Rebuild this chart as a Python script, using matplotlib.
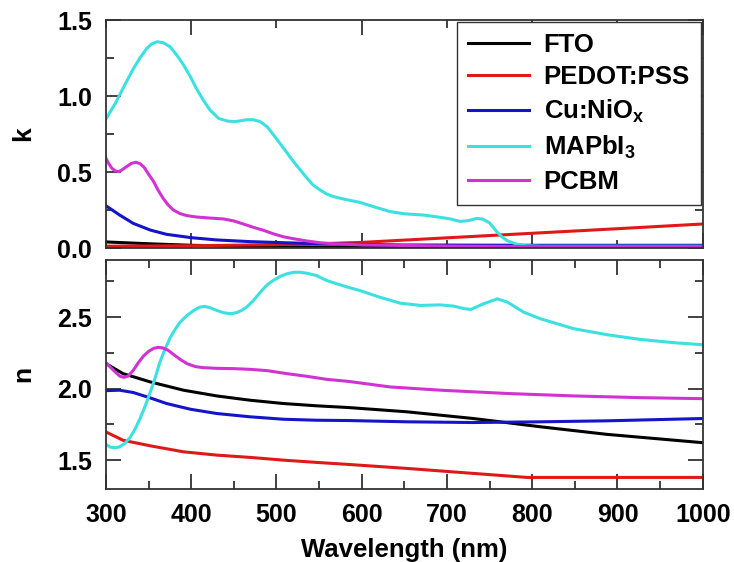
import matplotlib
matplotlib.use("Agg")
import matplotlib.pyplot as plt
from matplotlib.ticker import MultipleLocator, FormatStrFormatter

# ---------------- data ----------------
labels = ["FTO", "PEDOT:PSS", r"Cu:NiO$_\mathregular{x}$", r"MAPbI$_\mathregular{3}$", "PCBM"]
colors = ["#000000", "#e01818", "#1414c8", "#3ce0e0", "#d232d2"]

# extinction coefficient k
fto_k_wl = [300, 350, 400, 450, 500, 600, 700, 800, 900, 1000]
fto_k = [0.040, 0.028, 0.018, 0.012, 0.008, 0.005, 0.004, 0.004, 0.004, 0.004]

pedot_k_wl = [300, 400, 500, 550, 600, 700, 800, 900, 1000]
pedot_k = [0.012, 0.015, 0.022, 0.028, 0.037, 0.067, 0.097, 0.127, 0.158]

cunio_k_wl = [300, 316, 332, 352, 371, 400, 430, 469, 508, 567, 650, 800, 1000]
cunio_k = [0.278, 0.217, 0.162, 0.118, 0.090, 0.068, 0.053, 0.042, 0.035, 0.026, 0.020, 0.018, 0.018]

mapbi_k_wl = [300, 305, 311, 316, 324, 332, 340, 348, 354, 360, 367, 375, 383, 391, 399,
              406, 414, 422, 432, 442, 450, 457, 465, 473, 481, 489, 496, 504, 512, 520,
              528, 536, 543, 551, 559, 567, 575, 584, 598, 615, 633, 650, 672, 692, 705,
              715, 725, 735, 742, 750, 758, 765, 772, 782, 793, 810, 900, 1000]
mapbi_k = [0.849, 0.897, 0.952, 1.007, 1.094, 1.178, 1.252, 1.314, 1.344, 1.357, 1.351,
           1.325, 1.270, 1.204, 1.127, 1.050, 0.974, 0.908, 0.853, 0.836, 0.831, 0.836,
           0.844, 0.844, 0.831, 0.798, 0.748, 0.689, 0.629, 0.568, 0.513, 0.458, 0.414,
           0.382, 0.355, 0.338, 0.327, 0.316, 0.300, 0.270, 0.240, 0.225, 0.217, 0.202,
           0.190, 0.175, 0.180, 0.195, 0.190, 0.165, 0.110, 0.070, 0.045, 0.025, 0.015,
           0.012, 0.012, 0.012]

pcbm_k_wl = [300, 303, 307, 311, 315, 318, 324, 330, 335, 340, 345, 350, 356, 361, 367,
             373, 379, 387, 395, 406, 422, 438, 450, 461, 473, 485, 496, 508, 520, 536,
             551, 567, 584, 600, 700, 800, 1000]
pcbm_k = [0.590, 0.557, 0.524, 0.507, 0.502, 0.511, 0.535, 0.557, 0.564, 0.555, 0.529,
          0.485, 0.436, 0.382, 0.327, 0.283, 0.250, 0.226, 0.213, 0.204, 0.197, 0.191,
          0.178, 0.158, 0.136, 0.116, 0.094, 0.074, 0.061, 0.046, 0.035, 0.028, 0.024,
          0.020, 0.013, 0.010, 0.010]

# refractive index n
fto_n_wl = [300, 320, 352, 391, 430, 469, 508, 547, 584, 653, 731, 810, 888, 1000]
fto_n = [2.175, 2.105, 2.047, 1.989, 1.949, 1.919, 1.896, 1.880, 1.868, 1.838, 1.791,
         1.733, 1.680, 1.622]

pedot_n_wl = [300, 320, 352, 391, 430, 469, 508, 547, 584, 653, 731, 794, 810, 1000]
pedot_n = [1.697, 1.639, 1.600, 1.558, 1.535, 1.519, 1.500, 1.484, 1.470, 1.442, 1.407,
           1.379, 1.379, 1.379]

cunio_n_wl = [300, 316, 332, 352, 371, 399, 430, 469, 508, 547, 584, 653, 731, 810, 888, 1000]
cunio_n = [1.986, 1.989, 1.973, 1.935, 1.896, 1.856, 1.826, 1.803, 1.786, 1.779, 1.777,
           1.768, 1.763, 1.768, 1.775, 1.791]

mapbi_n_wl = [300, 305, 311, 316, 322, 328, 334, 340, 346, 352, 358, 363, 369, 375, 381,
              387, 395, 403, 410, 416, 422, 430, 438, 446, 453, 459, 465, 473, 481, 489,
              496, 504, 512, 520, 528, 536, 547, 559, 571, 584, 598, 621, 645, 669, 692,
              708, 720, 728, 743, 759, 771, 790, 810, 849, 888, 927, 967, 1000]
mapbi_n = [1.610, 1.591, 1.586, 1.593, 1.617, 1.656, 1.716, 1.791, 1.879, 1.977, 2.081,
           2.182, 2.273, 2.353, 2.414, 2.465, 2.512, 2.547, 2.570, 2.575, 2.566, 2.547,
           2.531, 2.524, 2.531, 2.547, 2.570, 2.617, 2.674, 2.726, 2.756, 2.784, 2.803,
           2.814, 2.814, 2.807, 2.791, 2.756, 2.733, 2.709, 2.686, 2.640, 2.598, 2.582,
           2.586, 2.577, 2.560, 2.554, 2.594, 2.628, 2.605, 2.535, 2.488, 2.419, 2.377,
           2.344, 2.321, 2.307]

pcbm_n_wl = [300, 305, 311, 316, 321, 326, 332, 338, 344, 350, 356, 361, 367, 373, 379,
             387, 395, 405, 414, 430, 450, 469, 489, 512, 536, 559, 584, 633, 693, 771,
             849, 927, 1000]
pcbm_n = [2.182, 2.151, 2.116, 2.088, 2.079, 2.088, 2.128, 2.182, 2.228, 2.261, 2.282,
          2.289, 2.284, 2.268, 2.240, 2.205, 2.175, 2.154, 2.147, 2.142, 2.140, 2.135,
          2.126, 2.105, 2.086, 2.065, 2.051, 2.012, 1.989, 1.966, 1.949, 1.937, 1.930]

k_series = [(fto_k_wl, fto_k), (pedot_k_wl, pedot_k), (cunio_k_wl, cunio_k),
            (mapbi_k_wl, mapbi_k), (pcbm_k_wl, pcbm_k)]
n_series = [(fto_n_wl, fto_n), (pedot_n_wl, pedot_n), (cunio_n_wl, cunio_n),
            (mapbi_n_wl, mapbi_n), (pcbm_n_wl, pcbm_n)]

# ---------------- style ----------------
spine_c = "#333333"
plt.rcParams.update({
    "font.family": ["Liberation Sans", "DejaVu Sans"],
    "font.weight": "bold",
    "xtick.direction": "in", "ytick.direction": "in",
    "xtick.top": True, "ytick.right": True,
    "xtick.major.size": 11, "ytick.major.size": 11,
    "xtick.minor.size": 6, "ytick.minor.size": 6,
    "xtick.major.width": 1.3, "ytick.major.width": 1.3,
    "xtick.minor.width": 1.3, "ytick.minor.width": 1.3,
    "xtick.color": spine_c, "ytick.color": spine_c,
    "xtick.labelcolor": "black", "ytick.labelcolor": "black",
    "xtick.major.pad": 10, "ytick.major.pad": 10,
    "axes.edgecolor": spine_c, "axes.linewidth": 1.3,
})
FS = 18
lw = 2.2

fig = plt.figure(figsize=(7.34, 5.62), dpi=100)
ax1 = fig.add_axes([0.1444, 0.5587, 0.8130, 0.4057])
ax2 = fig.add_axes([0.1444, 0.1304, 0.8130, 0.4070])

for (wl, v), c, lab in zip(k_series, colors, labels):
    ax1.plot(wl, v, color=c, lw=lw, label=lab)
for (wl, v), c in zip(n_series, colors):
    ax2.plot(wl, v, color=c, lw=lw)

ax1.set_xlim(300, 1000)
ax1.set_ylim(0, 1.5)
ax2.set_xlim(300, 1000)
ax2.set_ylim(1.3, 2.9)

ax1.xaxis.set_major_locator(MultipleLocator(200))
ax1.xaxis.set_minor_locator(MultipleLocator(100))
ax1.yaxis.set_major_locator(MultipleLocator(0.5))
ax1.yaxis.set_minor_locator(MultipleLocator(0.25))
ax2.xaxis.set_major_locator(MultipleLocator(100))
ax2.xaxis.set_minor_locator(MultipleLocator(50))
ax2.yaxis.set_major_locator(MultipleLocator(0.5))
ax2.yaxis.set_minor_locator(MultipleLocator(0.25))

for ax in (ax1, ax2):
    ax.tick_params(which="both", direction="in", top=True, right=True,
                   bottom=True, left=True, labelsize=FS)
    for t in ax.get_xticklabels() + ax.get_yticklabels():
        t.set_fontweight("bold")
    ax.yaxis.set_major_formatter(FormatStrFormatter("%.1f"))

ax1.tick_params(axis="x", labelbottom=False)

ax1.set_ylabel("k", fontsize=19, fontweight="bold", labelpad=16)
ax2.set_ylabel("n", fontsize=19, fontweight="bold", labelpad=16)
ax2.set_xlabel("Wavelength (nm)", fontsize=18.5, fontweight="bold", labelpad=8.5)

leg = ax1.legend(loc="upper right", bbox_to_anchor=(1.0, 1.0), borderaxespad=0.08,
                 prop={"family": ["Liberation Sans", "DejaVu Sans"], "weight": "bold",
                       "size": 18.5},
                 frameon=True, fancybox=False, framealpha=1,
                 handlelength=2.37, handletextpad=0.58, labelspacing=0.33,
                 borderpad=0.42)
leg.get_frame().set_edgecolor(spine_c)
leg.get_frame().set_linewidth(1.0)
for l in leg.get_lines():
    l.set_linewidth(lw)

fig.savefig("out.png", dpi=100)
